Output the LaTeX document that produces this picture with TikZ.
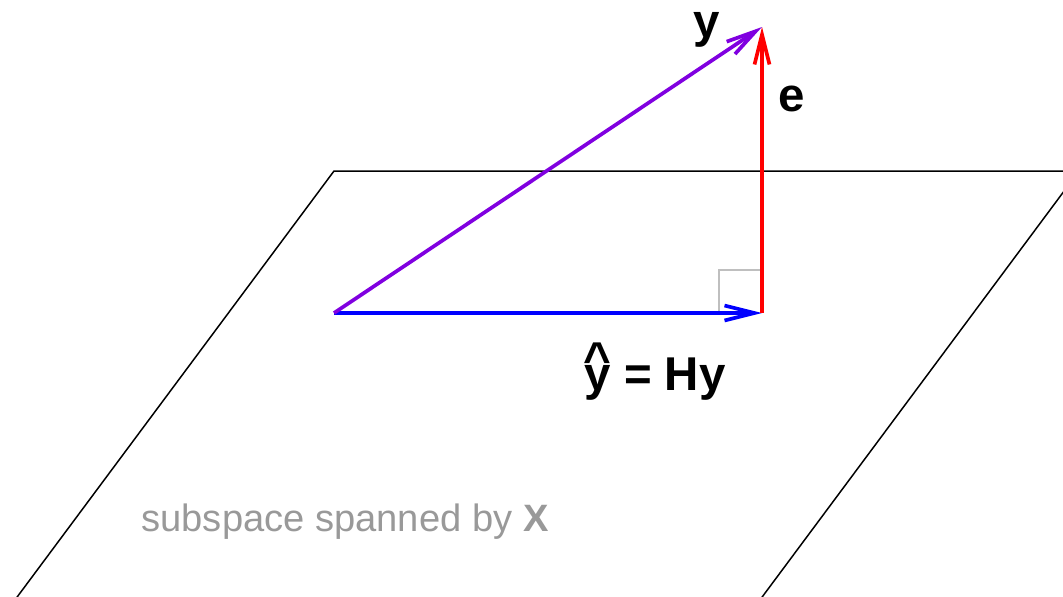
\documentclass[tikz,border=0pt]{standalone}
\usepackage{fontspec}
\usepackage{calc}
\setmainfont{Liberation Sans}
\usetikzlibrary{arrows.meta}

\newcommand{\hatvec}[1]{\rlap{#1}\raisebox{0.3em}{\makebox[\widthof{#1}]{\textasciicircum}}}

\begin{document}
\begin{tikzpicture}[
  x=0.02cm, y=-0.02cm,
  >={Straight Barb[length=17pt,width=8.5pt]},
  vec/.style={->,line width=2.1pt},
  plane/.style={draw=black,line width=0.85pt},
  lbl/.style={anchor=base,font=\fontsize{27}{30}\selectfont\bfseries,inner sep=0pt},
  note/.style={anchor=base,font=\fontsize{21.7}{25}\selectfont,text=gray60,inner sep=0pt}
]
  \definecolor{gray60}{HTML}{999999}
  \definecolor{violetvec}{RGB}{128,0,224}
  \useasboundingbox (0,0) rectangle (1063,596);
  \clip (0,0) rectangle (1063,596);

  % the plane
  \draw[plane] (334,171) -- (1079,171) -- (748,616) -- (3,616) -- cycle;

  % points
  \coordinate (origin) at (334,313);
  \coordinate (fitted) at (762,313);
  \coordinate (obs) at (762,27);

  % right angle
  \draw[draw=gray!50,line width=0.6pt] ([xshift=-43*0.02cm]fitted) |- ([yshift=43*0.02cm]fitted);

  % vectors
  \draw[vec,blue] (origin) -- (fitted);
  \draw[vec,red] (fitted) -- (obs);
  \draw[vec,violetvec] (origin) -- (obs);

  % labels
  \node[lbl] (ylab) at (707,37) {y};
  \node[lbl] (elab) at (792,111) {e};
  \node[lbl] (hatlab) at (655,390) {\hatvec{y} = Hy};
  \node[note] (span) at (345,531) {subspace spanned by \textbf{X}};
\end{tikzpicture}
\end{document}
